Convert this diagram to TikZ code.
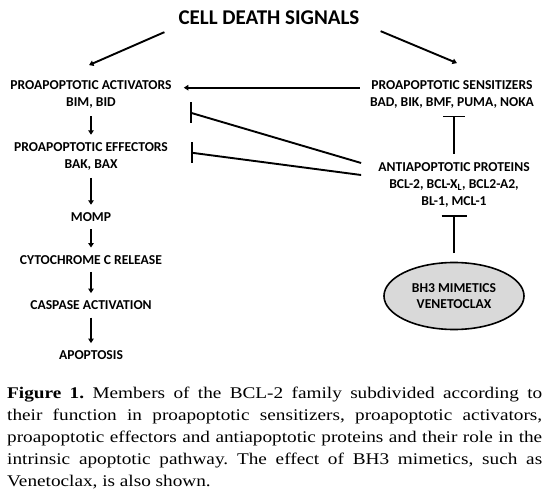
\documentclass[tikz,border=0pt]{standalone}
\usepackage{fontspec}
\setmainfont{Carlito}
\newfontfamily\capfont[FakeStretch=1.18]{Liberation Serif}
\usetikzlibrary{arrows.meta,shapes.geometric,calc}
\frenchspacing
\begin{document}
\begin{tikzpicture}[x=1pt,y=-1pt,
  lab/.style={font=\bfseries\fontsize{13.6}{16.8}\selectfont, align=center, inner sep=0pt, anchor=north},
  arr/.style={line width=1.9pt, -{Triangle[length=4.5pt,width=5.5pt]}},
  varr/.style={arr, shorten <=7.5pt, shorten >=7.5pt},
  inh/.style={line width=1.9pt},
  ]
\useasboundingbox[fill=white] (0,0) rectangle (550,495);

\node[font=\bfseries\fontsize{21}{25}\selectfont, inner sep=0pt] (title) at (269,18) {CELL DEATH SIGNALS};

\node[lab] (act) at (91,80.6) {PROAPOPTOTIC ACTIVATORS\\BIM, BID};
\node[lab] (eff) at (91,142.3) {PROAPOPTOTIC EFFECTORS\\BAK, BAX};
\node[lab] (momp) at (91,212.3) {MOMP};
\node[lab] (cyt) at (91,255) {CYTOCHROME C RELEASE};
\node[lab] (casp) at (91,300.6) {CASPASE ACTIVATION};
\node[lab] (apo) at (91,350.6) {APOPTOSIS};

\node[lab] (sens) at (452,80.6) {PROAPOPTOTIC SENSITIZERS\\BAD, BIK, BMF, PUMA, NOKA};
\node[lab] (anti) at (454,162.6) {ANTIAPOPTOTIC PROTEINS\\BCL-2, BCL-X\textsubscript{L}, BCL2-A2,\\BL-1, MCL-1};
\node[ellipse, draw, line width=1.6pt, fill=gray!30, minimum width=140pt, minimum height=67pt,
      inner sep=0pt, align=center, font=\bfseries\fontsize{13.6}{16.8}\selectfont] (bh3) at (454,296) {BH3 MIMETICS\\VENETOCLAX};

% arrows from the title
\draw[arr] ($(title.south west)+(-14,7)$) -- ($(act.north)+(-2,-15.5)$);
\draw[arr] ($(title.south east)+(21,6)$) -- ($(sens.north)+(5,-17.5)$);

% sensitizers -> activators
\draw[arr] ($(sens.north west)+(-10,7.1)$) -- ($(act.north east)+(12,7.1)$);

% left cascade
\draw[varr] (act.south) -- (eff.north);
\draw[varr] (eff.south) -- (momp.north);
\draw[varr] (momp.south) -- (cyt.north);
\draw[varr] (cyt.south) -- (casp.north);
\draw[varr] (casp.south) -- (apo.north);

% inhibitions on the right
\draw[inh, -{Bar[width=22pt]}, shorten <=8.6pt, shorten >=7pt] (anti.north) -- (anti.north |- sens.south);
\draw[inh, -{Bar[width=25pt]}, shorten <=8.5pt, shorten >=7.7pt] (bh3.north) -- (bh3.north |- anti.south);

% inhibitions from antiapoptotic proteins
\coordinate (a1) at ($(anti.north west)+(-17,0.4)$);
\coordinate (a2) at ($(anti.north west)+(-17,12.4)$);
\coordinate (b1) at ($(act.north east)+(19,32.2)$);
\coordinate (b2) at ($(eff.north east)+(24,10.5)$);
\draw[inh] (a1) -- (b1);
\draw[inh] ($(b1)+(0,-10.5)$) -- ($(b1)+(0,10.5)$);
\draw[inh] (a2) -- (b2);
\draw[inh] ($(b2)+(0,-10.5)$) -- ($(b2)+(0,10.5)$);

% caption
\node[anchor=base west, text width=535pt, align=justify, inner sep=0pt,
      font=\capfont\fontsize{16.3}{22.1}\selectfont] (cap) at (7,398.3)
  {\textbf{Figure 1.} Members of the BCL-2 family subdivided according to\linebreak
   their function in proapoptotic sensitizers, proapoptotic activators,\linebreak
   proapoptotic effectors and antiapoptotic proteins and their role in the\linebreak
   intrinsic apoptotic pathway. The effect of BH3 mimetics, such as\linebreak
   Venetoclax, is also shown.};
\end{tikzpicture}
\end{document}
